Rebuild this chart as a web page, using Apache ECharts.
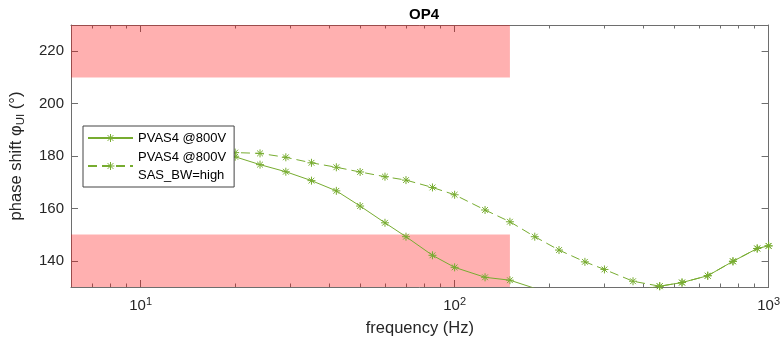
<!DOCTYPE html>
<html>
<head>
<meta charset="utf-8">
<script src="https://cdn.jsdelivr.net/npm/echarts@6/dist/echarts.min.js"></script>
<style>
  html, body { margin: 0; padding: 0; background: #fff; }
  #chart { width: 783px; height: 346px; }
</style>
</head>
<body>
<div id="chart"></div>
<script>
// OP4 phase shift vs frequency, two PVAS4 runs, tolerance bands in red
const freqHz = [17, 20, 24, 29, 35, 42, 50, 60, 70, 85, 100, 125, 150, 180, 215, 260, 300, 370, 450, 530, 640, 770, 920, 1000]
const phaseStd = [181.5, 179.7, 176.7, 174.0, 170.6, 166.7, 160.9, 154.5, 149.2, 142.1, 137.5, 133.7, 132.6, 129.5, 127.5, 126.5, 127.0, 128.5, 130.3, 131.7, 134.3, 139.8, 144.7, 145.7]
const phaseHigh = [181.8, 181.3, 181.0, 179.5, 177.4, 175.7, 173.9, 172.1, 170.8, 168.0, 165.2, 159.4, 154.9, 149.2, 144.1, 139.6, 136.7, 132.2, 130.3, 131.7, 134.3, 139.8, 144.7, 145.7]

const bandFreq = [6, 150]
const upperBand = [210, 230]
const lowerBand = [130, 150]

const xMajor = [10, 100, 1000]
const xMinor = [6, 7, 8, 9, 20, 30, 40, 50, 60, 70, 80, 90, 200, 300, 400, 500, 600, 700, 800, 900]
const yTicks = [140, 160, 180, 200, 220]

const GREEN = '#77ac30'
const AX = '#6e6e6e'
const TXT = '#262626'
const FONT = 'Arial, "Liberation Sans", Helvetica, sans-serif'
const STAR = 'path://M0,-1L0,1M-1,0L1,0M-0.72,-0.72L0.72,0.72M-0.72,0.72L0.72,-0.72'

const chart = echarts.init(document.getElementById('chart'))

function xAxisDef(pos, ticks, len, withLabel) {
  return {
    type: 'log', logBase: 10, min: 6, max: 1000, position: pos,
    axisLine: { show: withLabel, lineStyle: { color: AX, width: 1 } },
    axisTick: { show: true, inside: true, length: len, customValues: ticks, lineStyle: { color: AX } },
    axisLabel: withLabel ? {
      customValues: xMajor, color: TXT, fontFamily: FONT, fontSize: 15, margin: 9,
      formatter: v => '10{sup|' + Math.round(Math.log10(v)) + '}',
      rich: { sup: { fontSize: 11, verticalAlign: 'top', padding: [0, 0, 8, 0], color: TXT, fontFamily: FONT } }
    } : { show: false },
    splitLine: { show: false },
    minorTick: { show: false },
  }
}

const xAxes = [xAxisDef('bottom', xMinor, 3.5, true), xAxisDef('bottom', xMajor, 7, false),
  xAxisDef('top', xMinor, 3.5, true), xAxisDef('top', xMajor, 7, false)]
xAxes[2].axisLabel = { show: false }
xAxes[0].name = 'frequency (Hz)'
xAxes[0].nameLocation = 'middle'
xAxes[0].nameGap = 33
xAxes[0].nameTextStyle = { color: TXT, fontFamily: FONT, fontSize: 16.5 }

function yAxisDef(pos, withLabel) {
  return {
    type: 'value', min: 130, max: 230, position: pos,
    axisLine: { show: true, lineStyle: { color: AX, width: 1 } },
    axisTick: { show: true, inside: true, length: 7, customValues: yTicks, lineStyle: { color: AX } },
    axisLabel: withLabel ? { customValues: yTicks, color: TXT, fontFamily: FONT, fontSize: 15, margin: 7 } : { show: false },
    splitLine: { show: false },
  }
}
const yAxes = [yAxisDef('left', true), yAxisDef('right', false)]
yAxes[0].name = 'phase shift φ{sub|UI} (°)'
yAxes[0].nameLocation = 'middle'
yAxes[0].nameGap = 44
yAxes[0].nameTextStyle = {
  color: TXT, fontFamily: FONT, fontSize: 16.5,
  rich: { sub: { fontSize: 11.5, verticalAlign: 'bottom', padding: [9, 0, 0, 0], color: TXT, fontFamily: FONT } }
}

function band(ys) {
  return [{ xAxis: bandFreq[0], yAxis: ys[0] }, { xAxis: bandFreq[1], yAxis: ys[1] }]
}

chart.setOption({
  animation: false,
  backgroundColor: '#fff',
  title: {
    text: 'OP4', left: 404, top: 2,
    textStyle: { color: '#000', fontFamily: FONT, fontSize: 15, fontWeight: 'bold' },
  },
  grid: { left: 70, right: 12, top: 25, bottom: 59, containLabel: false },
  legend: {
    data: ['PVAS4 @800V', 'PVAS4 @800V\nSAS_BW=high'],
    orient: 'vertical', left: 83, top: 126,
    padding: [3, 8, 3, 4], itemGap: 1, itemWidth: 45, itemHeight: 10,
    backgroundColor: '#fff', borderColor: '#444', borderWidth: 1, borderRadius: 0,
    itemStyle: { color: 'transparent', borderColor: GREEN, borderWidth: 1 },
    textStyle: { color: '#000', fontFamily: FONT, fontSize: 13, lineHeight: 18 },
  },
  xAxis: xAxes,
  yAxis: yAxes,
  series: [
    {
      name: 'PVAS4 @800V', type: 'line', data: freqHz.map((f, i) => [f, phaseStd[i]]),
      symbol: STAR, symbolSize: 8, showSymbol: true,
      lineStyle: { color: GREEN, width: 1, type: 'solid' },
      itemStyle: { color: 'none', borderColor: GREEN, borderWidth: 1 },
      z: 2,
    },
    {
      name: 'PVAS4 @800V\nSAS_BW=high', type: 'line', data: freqHz.map((f, i) => [f, phaseHigh[i]]),
      symbol: STAR, symbolSize: 8, showSymbol: true,
      lineStyle: { color: GREEN, width: 1, type: [9, 5] },
      itemStyle: { color: 'none', borderColor: GREEN, borderWidth: 1 },
      z: 2,
    },
    {
      name: 'bands', type: 'line', data: [], z: 3, silent: true,
      markArea: {
        silent: true,
        itemStyle: { color: 'rgba(255,0,0,0.31)' },
        data: [band(upperBand), band(lowerBand)],
      },
    },
  ],
})
</script>
</body>
</html>
